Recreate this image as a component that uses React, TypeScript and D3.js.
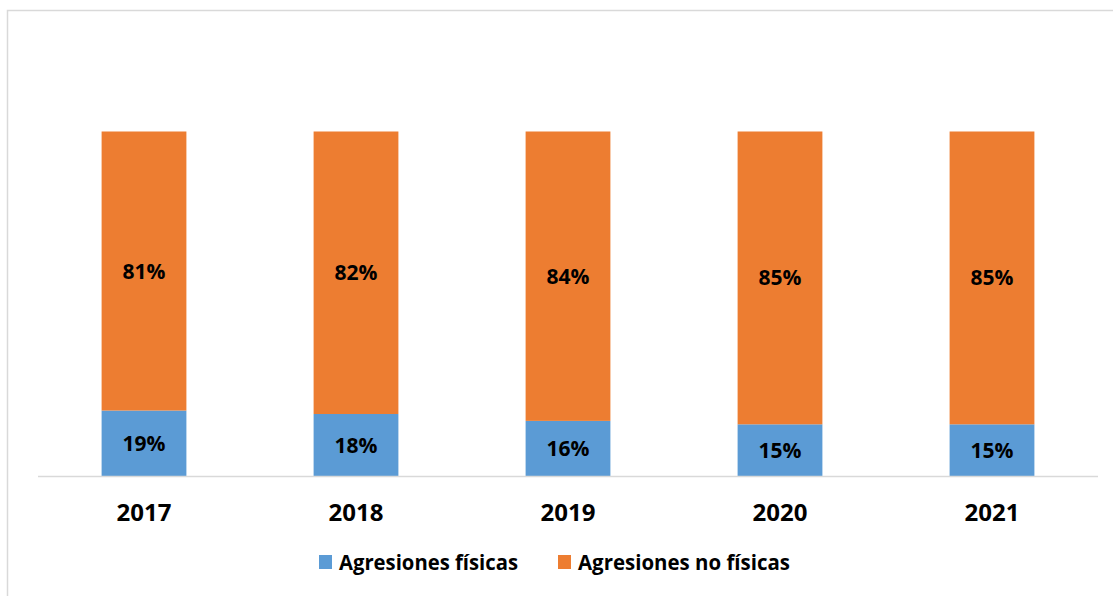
import React from "react";
import * as d3 from "d3";

const years = ["2017", "2018", "2019", "2020", "2021"];
const fisicas = [19, 18, 16, 15, 15];
const noFisicas = [81, 82, 84, 85, 85];
const seriesNames = ["Agresiones físicas", "Agresiones no físicas"];
const colors = ["#5b9bd5", "#ed7d31"];

const W = 1113;
const H = 596;
const FONT = "'Open Sans', Lato, sans-serif";

export default function App() {
  const x = d3.scaleBand<string>().domain(years).range([38, 1098]).paddingInner(0.6).paddingOuter(0.3);
  const y = d3.scaleLinear().domain([0, 100]).range([476, 131.5]);

  const rows = years.map((yr, i) => ({ year: yr, fis: fisicas[i], nofis: noFisicas[i] }));
  const stack = d3.stack<any>().keys(["fis", "nofis"])(rows);

  return (
    <svg width={W} height={H} style={{ position: "absolute", left: 0, top: 0, background: "#fff" }}>
      <rect x={7.5} y={10.5} width={1130} height={620} fill="#fff" stroke="#d9d9d9" strokeWidth={1.5} />
      {stack.map((layer, li) =>
        layer.map((d, i) => {
          const x0 = x(years[i])!;
          const y0 = y(d[1]);
          const y1 = y(d[0]);
          const val = li === 0 ? fisicas[i] : noFisicas[i];
          return (
            <g key={`${li}-${i}`}>
              <rect x={x0} y={y0} width={x.bandwidth()} height={y1 - y0} fill={colors[li]} />
              <text
                x={x0 + x.bandwidth() / 2}
                y={(y0 + y1) / 2}
                dy="0.36em"
                textAnchor="middle"
                fontFamily={FONT}
                fontWeight="bold"
                fontSize={21}
                fill="#000"
              >
                {val}%
              </text>
            </g>
          );
        })
      )}
      <line x1={38} x2={1098} y1={476.5} y2={476.5} stroke="#d9d9d9" strokeWidth={1.5} />
      {years.map((yr) => (
        <text
          key={yr}
          x={x(yr)! + x.bandwidth() / 2}
          y={521}
          textAnchor="middle"
          fontFamily={FONT}
          fontWeight="bold"
          fontSize={24}
          fill="#000"
        >
          {yr}
        </text>
      ))}
      <g>
        <rect x={319} y={555} width={13} height={14} fill={colors[0]} />
        <text x={339} y={570} fontFamily={FONT} fontWeight="bold" fontSize={22} fill="#000" textLength={179} lengthAdjust="spacingAndGlyphs">
          {seriesNames[0]}
        </text>
        <rect x={558} y={555} width={13} height={14} fill={colors[1]} />
        <text x={578} y={570} fontFamily={FONT} fontWeight="bold" fontSize={22} fill="#000" textLength={212} lengthAdjust="spacingAndGlyphs">
          {seriesNames[1]}
        </text>
      </g>
    </svg>
  );
}
